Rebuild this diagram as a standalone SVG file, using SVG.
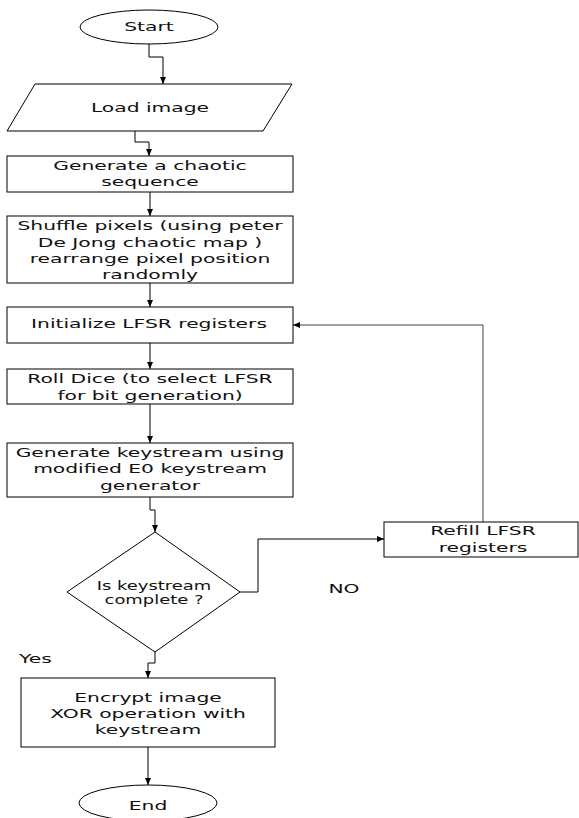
<svg xmlns="http://www.w3.org/2000/svg" width="579" height="818" viewBox="0 0 579 818">
<style>
.s{fill:#fff;stroke:#000;stroke-width:1}
.t{font-family:"DejaVu Sans","Verdana",sans-serif;font-size:13px;fill:#111;text-anchor:middle}
.d{font-size:11.5px}
.c{fill:none;stroke:#000;stroke-width:1;marker-end:url(#ah)}
.g{stroke:#444}
</style>
<defs>
<marker id="ah" markerUnits="userSpaceOnUse" markerWidth="8" markerHeight="8" refX="7" refY="4" orient="auto">
<path d="M0,1 L7,4 L0,7 Z" fill="#000"/>
</marker>
</defs>
<rect width="579" height="818" fill="#fff"/>
<g id="connectors">
<path class="c" d="M149,44 V57 H163 V84"/>
<path class="c" d="M135,131 V142 H149 V156"/>
<path class="c" d="M150,192 V216"/>
<path class="c" d="M150,283 V307"/>
<path class="c" d="M150,343 V369"/>
<path class="c" d="M150,404 V443"/>
<path class="c" d="M150,497 V510 H155 V532"/>
<path class="c" d="M240,592 H258 V539 H384"/>
<path class="c g" d="M483,522 V325 H293"/>
<path class="c" d="M155,652 V663 H148 V678"/>
<path class="c" d="M148,747 V785"/>
</g>
<g id="start">
<ellipse class="s" cx="149" cy="27" rx="69" ry="17"/>
<text class="t" transform="translate(149,31) scale(1.56,1)">Start</text>
</g>
<g id="load">
<polygon class="s" points="35,84 292,84 263,131 7,131"/>
<text class="t" transform="translate(150,112) scale(1.56,1)">Load image</text>
</g>
<g id="chaotic">
<rect class="s" x="7" y="156" width="286" height="36"/>
<text class="t" transform="translate(150,170) scale(1.56,1)">Generate a chaotic</text>
<text class="t" transform="translate(150,186) scale(1.56,1)">sequence</text>
</g>
<g id="shuffle">
<rect class="s" x="7" y="216" width="286" height="67"/>
<text class="t" transform="translate(150,230) scale(1.56,1)">Shuffle pixels (using peter</text>
<text class="t" transform="translate(150,247) scale(1.56,1)">De Jong chaotic map )</text>
<text class="t" transform="translate(150,263) scale(1.56,1)">rearrange pixel position</text>
<text class="t" transform="translate(150,279) scale(1.56,1)">randomly</text>
</g>
<g id="init">
<rect class="s" x="7" y="307" width="286" height="36"/>
<text class="t" transform="translate(149,328) scale(1.56,1)">Initialize LFSR registers</text>
</g>
<g id="dice">
<rect class="s" x="7" y="369" width="286" height="35"/>
<text class="t" transform="translate(150,383) scale(1.56,1)">Roll Dice (to select LFSR</text>
<text class="t" transform="translate(150,400) scale(1.56,1)">for bit generation)</text>
</g>
<g id="keystream">
<rect class="s" x="7" y="443" width="286" height="54"/>
<text class="t" transform="translate(150,457) scale(1.56,1)">Generate keystream using</text>
<text class="t" transform="translate(150,473) scale(1.56,1)">modified E0 keystream</text>
<text class="t" transform="translate(150,490) scale(1.56,1)">generator</text>
</g>
<g id="decision">
<polygon class="s" points="155,532 240,592 155,652 67,592"/>
<text class="t d" transform="translate(154,590) scale(1.56,1)">Is keystream</text>
<text class="t d" transform="translate(154,604) scale(1.56,1)">complete ?</text>
</g>
<g id="refill">
<rect class="s" x="384" y="522" width="194" height="35"/>
<text class="t" transform="translate(483,535) scale(1.56,1)">Refill LFSR</text>
<text class="t" transform="translate(483,552) scale(1.56,1)">registers</text>
</g>
<g id="encrypt">
<rect class="s" x="21" y="678" width="254" height="69"/>
<text class="t" transform="translate(148,702) scale(1.56,1)">Encrypt image</text>
<text class="t" transform="translate(148,718) scale(1.56,1)">XOR operation with</text>
<text class="t" transform="translate(148,734) scale(1.56,1)">keystream</text>
</g>
<g id="end">
<ellipse class="s" cx="148" cy="803" rx="69" ry="18"/>
<text class="t" transform="translate(148,810) scale(1.56,1)">End</text>
</g>
<g id="labels">
<text class="t" transform="translate(344,593) scale(1.56,1)">NO</text>
<text class="t" style="text-anchor:start" transform="translate(19,663) scale(1.56,1)">Yes</text>
</g>
</svg>
